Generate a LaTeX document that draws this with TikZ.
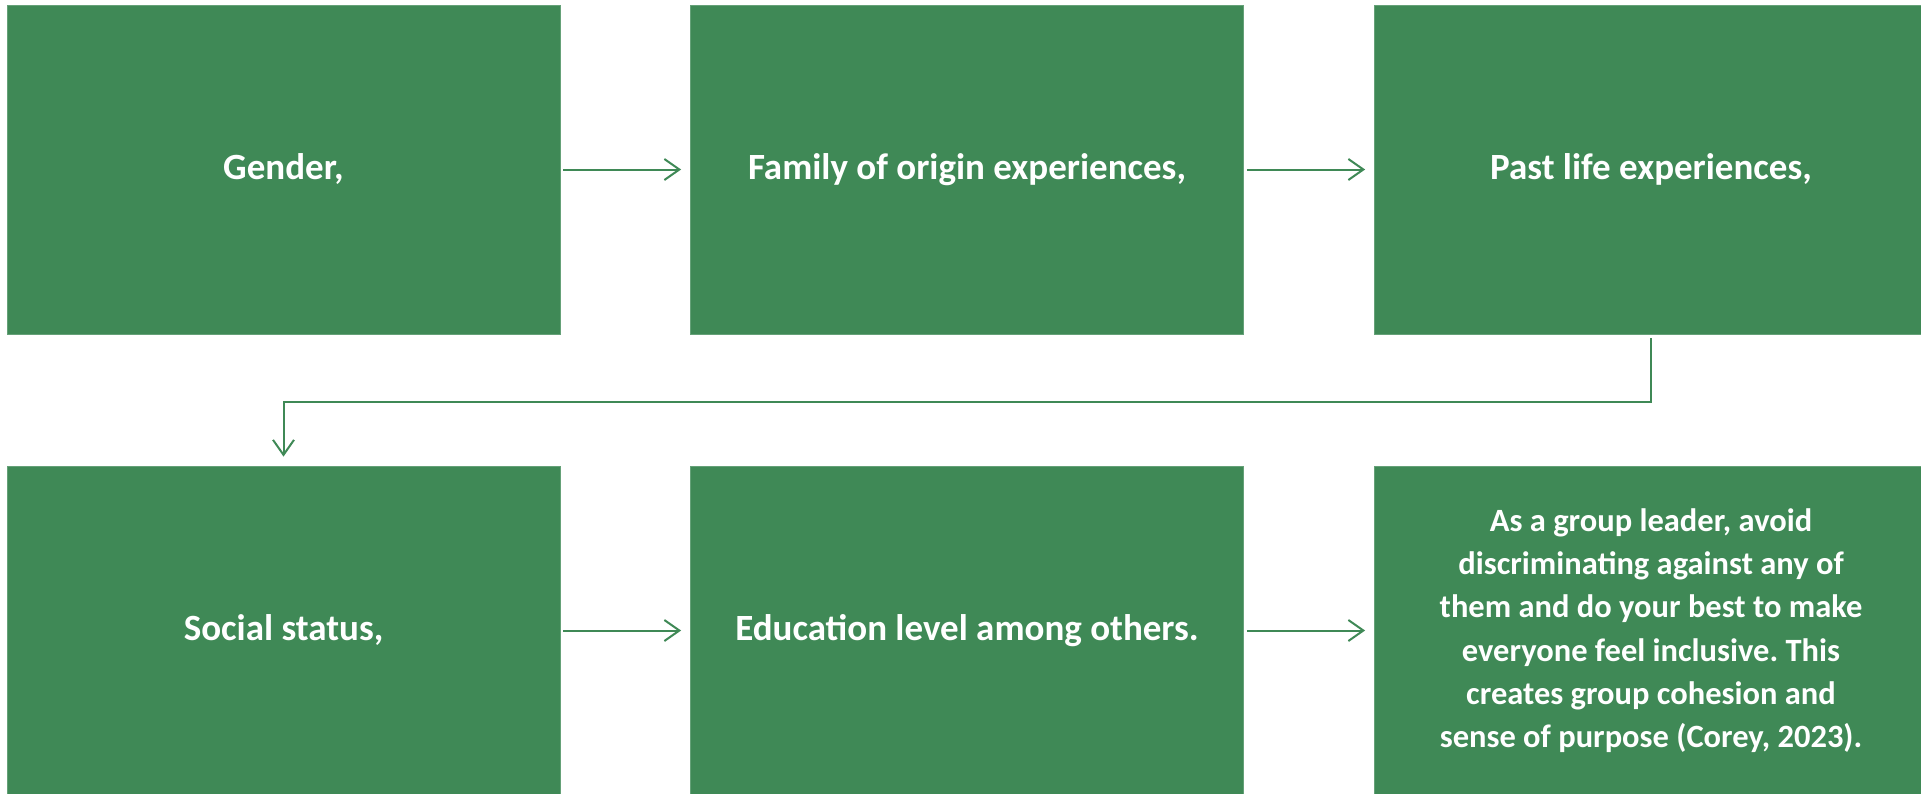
\documentclass[tikz,border=0pt]{standalone}
\usepackage{fontspec}
\setmainfont{Carlito}
\usetikzlibrary{arrows.meta}
\definecolor{boxgreen}{RGB}{63,137,86}
\frenchspacing

\begin{document}
\begin{tikzpicture}[x=1pt,y=-1pt,
  box/.style={fill=boxgreen,draw=boxgreen!80!white,line width=0.8pt,
    minimum width=553pt,minimum height=329pt,inner sep=0pt,
    text=white,font=\bfseries\fontsize{37}{45}\selectfont,align=center},
  link/.style={draw=boxgreen,line width=2pt,
    -{Straight Barb[length=15pt,width=21pt,line width=2pt]}}]%
  \useasboundingbox (0,0) rectangle (1921,793);
  \pgfmathsetmacro{\ytop}{169.5}
  \pgfmathsetmacro{\ybot}{630.5}

  % First row.
  \node[box] (gender) at (283.5,\ytop) {Gender,};
  \node[box] (family) at (967,\ytop) {Family of origin experiences,};
  \node[box] (past) at (1651,\ytop) {Past life experiences,};

  % Second row.
  \node[box] (social) at (283.5,\ybot) {Social status,};
  \node[box] (education) at (967,\ybot) {Education level among others.};
  \node[box,font=\bfseries\fontsize{32.5}{43.3}\selectfont] (leader) at (1651,\ybot)
    {As a group leader, avoid\\discriminating against any of\\them and do your best to make\\everyone feel inclusive. This\\creates group cohesion and\\sense of purpose (Corey, 2023).};

  \draw[link,shorten <=3pt,shorten >=9pt] (gender) -- (family);
  \draw[link,shorten <=3pt,shorten >=9pt] (family) -- (past);
  \coordinate (turn) at (1651,402);
  \draw[link,shorten <=4pt,shorten >=9pt] (past.south) -- (turn) -| (social.north);
  \draw[link,shorten <=3pt,shorten >=9pt] (social) -- (education);
  \draw[link,shorten <=3pt,shorten >=9pt] (education) -- (leader);

\end{tikzpicture}
\end{document}
